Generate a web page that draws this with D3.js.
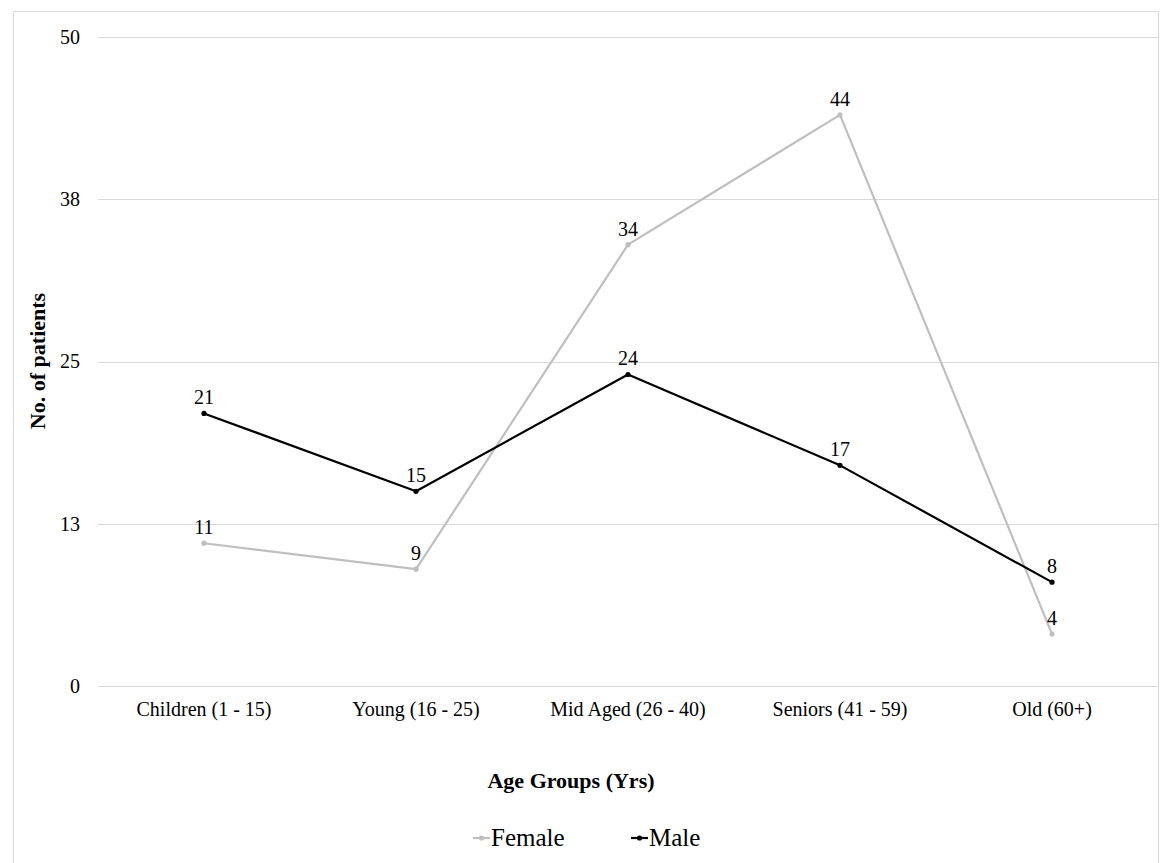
<!DOCTYPE html>
<html><head><meta charset="utf-8">
<script src="https://cdn.jsdelivr.net/npm/d3@7"></script>
<style>body{margin:0;background:#fff}svg{display:block}</style>
</head><body><svg id="c" width="1165" height="863" font-family="'Liberation Serif', 'Times New Roman', serif"></svg>
<script>
const categories = ["Children (1 - 15)","Young (16 - 25)","Mid Aged (26 - 40)","Seniors (41 - 59)","Old (60+)"];
const female = [11, 9, 34, 44, 4];
const male = [21, 15, 24, 17, 8];
const yTicks = [0, 12.5, 25, 37.5, 50];
const yTickLabels = ["0","13","25","38","50"];
const seriesNames = ["Female","Male"];
const colors = ["#bfbfbf","#000000"];
const FONT = "'Liberation Serif', 'Times New Roman', serif";

const svg = d3.select("#c");
svg.append("rect").attr("x",13.5).attr("y",11.5).attr("width",1145).attr("height",860).attr("fill","#fff").attr("stroke","#d9d9d9");

const m = {l:98, r:1158, t:37, b:686};
const x = d3.scaleBand().domain(categories).range([m.l, m.r]);
const y = d3.scaleLinear().domain([0,50]).range([m.b, m.t]);

const g = svg.append("g");
g.selectAll(".grid").data(yTicks).join("line")
  .attr("x1",m.l).attr("x2",m.r)
  .attr("y1",d=>Math.round(y(d))+0.5).attr("y2",d=>Math.round(y(d))+0.5)
  .attr("stroke","#d9d9d9").attr("stroke-width",1);

const yAxis = d3.axisLeft(y).tickValues(yTicks).tickFormat((d,i)=>yTickLabels[i]).tickSize(0).tickPadding(18);
const ya = svg.append("g").attr("transform",`translate(${m.l},0)`).call(yAxis);
ya.attr("font-family",FONT).attr("font-size",20);
ya.select(".domain").remove();
ya.selectAll("text").attr("fill","#000");

const xAxis = d3.axisBottom(x).tickSize(0).tickPadding(16);
const xa = svg.append("g").attr("transform",`translate(0,${m.b})`).call(xAxis);
xa.attr("font-family",FONT).attr("font-size",20);
xa.select(".domain").remove();
xa.selectAll("text").attr("fill","#000");

svg.append("text").attr("x",571).attr("y",788).attr("text-anchor","middle")
  .attr("font-size",22).attr("font-weight","bold").attr("font-family",FONT).text("Age Groups (Yrs)");
svg.append("text").attr("transform","translate(45,361) rotate(-90)").attr("text-anchor","middle")
  .attr("font-size",22).attr("font-weight","bold").attr("font-family",FONT).text("No. of patients");

const cx = d => x(d) + x.bandwidth()/2;
[female, male].forEach((vals, si) => {
  const pts = vals.map((v,i)=>[cx(categories[i]), y(v), v]);
  g.append("path").attr("d", d3.line()(pts.map(p=>[p[0],p[1]])))
    .attr("fill","none").attr("stroke",colors[si]).attr("stroke-width",2.2).attr("stroke-linejoin","round");
  g.selectAll(null).data(pts).join("circle")
    .attr("cx",p=>p[0]).attr("cy",p=>p[1]).attr("r",2.6).attr("fill",colors[si]);
  g.selectAll(null).data(pts).join("text")
    .attr("x",p=>p[0]).attr("y",p=>p[1]-9).attr("text-anchor","middle")
    .attr("font-family",FONT).attr("font-size",20).text(p=>p[2]);
});

const legX = [473, 631];
seriesNames.forEach((n,i)=>{
  const lx = legX[i], ly = 838;
  svg.append("line").attr("x1",lx).attr("x2",lx+17).attr("y1",ly).attr("y2",ly).attr("stroke",colors[i]).attr("stroke-width",2.2);
  svg.append("circle").attr("cx",lx+8.5).attr("cy",ly).attr("r",2.6).attr("fill",colors[i]);
  svg.append("text").attr("x",lx+18).attr("y",ly+8).attr("font-family",FONT).attr("font-size",25).text(n);
});
</script></body></html>
